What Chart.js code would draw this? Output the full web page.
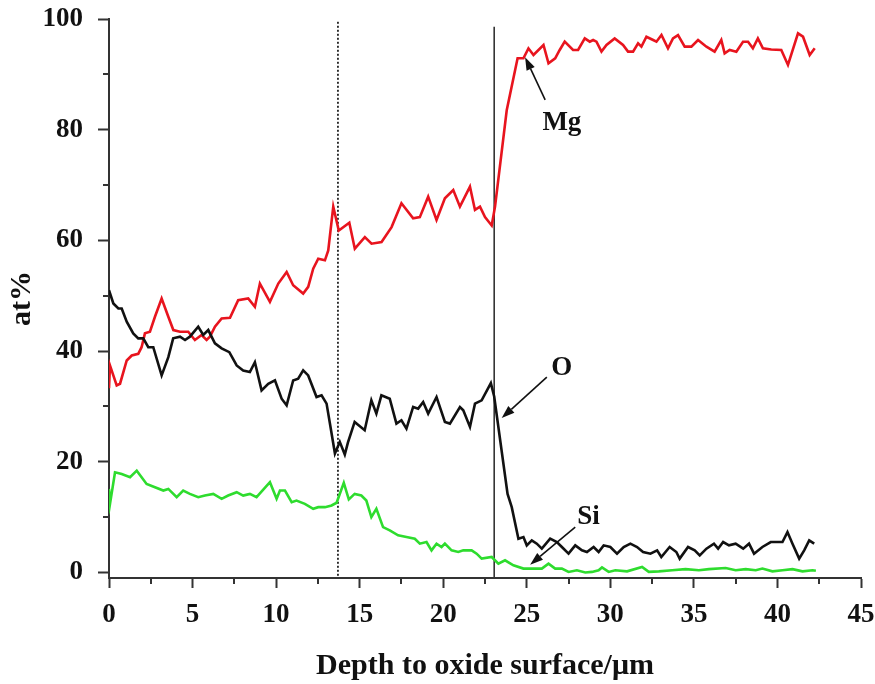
<!DOCTYPE html>
<html>
<head>
<meta charset="utf-8">
<script src="https://cdn.jsdelivr.net/npm/chart.js@4.4.1/dist/chart.umd.min.js"></script>
<style>
  html, body { margin: 0; padding: 0; background: #ffffff; }
  #wrap { width: 875px; height: 684px; }
</style>
</head>
<body>
<div id="wrap"><canvas id="c" width="875" height="684"></canvas></div>
<script>
// ---- data ----
const mgDepth = [0,0.06,0.46,0.66,1.06,1.36,1.75,1.95,2.15,2.45,2.75,3.15,3.55,3.85,4.25,4.74,5.14,5.54,5.84,6.04,6.34,6.74,7.24,7.73,8.33,8.73,9.03,9.63,10.13,10.63,11.02,11.62,11.92,12.22,12.52,12.92,13.12,13.42,13.75,14.38,14.71,15.31,15.71,16.31,16.91,17.5,18.2,18.6,19.1,19.6,20.1,20.6,21.0,21.6,21.9,22.2,22.5,22.9,23.1,23.8,24.45,24.8,25.1,25.4,26.0,26.3,26.7,26.97,27.27,27.77,28.07,28.47,28.77,28.97,29.17,29.47,29.77,30.26,30.76,31.06,31.36,31.66,31.86,32.16,32.56,32.76,33.06,33.45,33.75,34.05,34.45,34.85,35.25,35.75,36.24,36.64,36.84,37.14,37.54,37.94,38.24,38.53,38.83,39.13,39.63,40.23,40.63,41.23,41.53,41.93,42.23];
const mgAt    = [33.3,37.4,33.8,34.1,38.3,39.2,39.5,40.7,43.2,43.5,46.2,49.5,46.2,43.8,43.5,43.5,42.0,42.9,42.0,42.6,44.4,45.9,46.0,49.2,49.5,48.0,52.2,48.9,52.2,54.3,51.9,50.4,51.6,54.9,56.7,56.4,58.2,66.1,61.8,63.2,58.5,60.6,59.4,59.7,62.4,66.7,64.0,64.2,67.9,63.7,67.6,69.1,66.1,69.7,65.5,66.1,64.2,62.7,66.1,83.5,92.9,92.9,94.7,93.5,95.3,92.0,92.9,94.4,95.9,94.4,94.4,96.5,95.9,96.2,95.9,94.1,95.3,96.5,95.3,94.1,94.1,95.6,95.0,96.8,96.2,95.9,97.1,94.7,96.5,97.1,95.0,95.0,96.2,95.0,94.1,96.2,93.8,94.4,94.1,95.9,95.9,94.7,96.5,94.7,94.5,94.4,91.7,97.4,96.8,93.5,94.7];

const oDepth = [0,0.26,0.56,0.76,1.06,1.45,1.75,2.05,2.35,2.65,3.15,3.55,3.84,4.25,4.55,4.84,5.34,5.64,5.94,6.34,6.74,7.2,7.64,8.03,8.43,8.73,9.13,9.53,9.93,10.33,10.63,11.02,11.32,11.62,11.92,12.42,12.72,13.02,13.22,13.52,13.81,14.11,14.3,14.7,15.3,15.7,16.0,16.3,16.8,17.2,17.5,17.8,18.2,18.5,18.8,19.1,19.6,20.1,20.4,21.0,21.2,21.6,21.9,22.3,22.85,23.05,23.85,24.1,24.5,24.8,25.0,25.3,25.6,25.9,26.4,26.8,27.1,27.5,27.9,28.3,28.6,29.0,29.3,29.6,30.0,30.4,30.8,31.2,31.6,31.96,32.4,32.8,33.05,33.55,33.95,34.15,34.65,35.05,35.35,35.75,36.2,36.45,36.75,37.1,37.5,37.95,38.3,38.6,39.1,39.6,40.1,40.3,40.6,40.9,41.3,41.6,41.9,42.2];
const oAt    = [51.0,48.6,47.7,47.7,45.3,43.2,42.3,42.3,40.7,40.7,35.6,38.9,42.3,42.6,42.0,42.6,44.4,42.9,43.8,41.4,40.5,39.8,37.4,36.5,36.2,38.0,32.9,34.1,34.7,31.4,30.2,34.7,35.0,36.5,35.6,31.7,32.0,30.5,26.9,21.5,23.6,21.3,23.5,27.2,25.7,31.1,28.7,32.0,31.4,26.9,27.5,26.0,29.9,29.6,30.8,28.7,31.7,27.2,26.9,29.9,29.3,26.3,30.5,31.1,34.2,31.8,14.2,11.8,6.1,6.4,4.9,5.8,5.2,4.3,6.1,5.5,4.6,3.4,4.9,4.0,3.7,4.6,3.7,4.9,4.6,3.4,4.6,5.2,4.6,3.7,3.4,4.0,2.8,4.6,3.7,2.5,4.6,4.0,3.1,4.3,5.2,4.3,5.5,4.9,5.2,4.3,5.2,3.4,4.6,5.5,5.5,5.5,7.3,5.2,2.5,4.0,5.8,5.2];

const siDepth = [0,0.06,0.36,0.76,1.26,1.66,2.25,2.75,3.25,3.55,4.05,4.44,4.84,5.34,5.74,6.24,6.74,7.13,7.64,8.03,8.43,8.83,9.63,10.03,10.23,10.53,10.93,11.22,11.72,12.22,12.52,12.92,13.32,13.62,14.05,14.35,14.7,15.1,15.4,15.7,16.0,16.4,16.8,17.3,17.8,18.3,18.6,19.0,19.3,19.6,19.9,20.1,20.5,20.9,21.2,21.7,22.0,22.3,22.9,23.3,23.7,24.2,24.8,25.4,25.9,26.3,26.7,27.1,27.5,28.0,28.5,28.9,29.3,29.5,29.9,30.3,31.0,31.9,32.3,32.9,33.7,34.5,35.3,35.9,36.9,37.5,38.1,38.7,39.1,39.7,40.3,40.9,41.5,42.1,42.3];
const siAt    = [15.1,12.4,18.1,17.8,17.2,18.4,16.0,15.4,14.8,15.1,13.6,14.8,14.2,13.6,13.9,14.2,13.3,13.9,14.5,13.9,14.2,13.6,16.3,13.3,14.8,14.8,12.7,13.0,12.4,11.5,11.8,11.8,12.1,12.6,16.2,13.2,14.2,13.9,13.0,10.0,11.5,8.2,7.6,6.7,6.4,6.1,5.2,5.5,4.0,5.2,4.6,5.2,4.0,3.7,4.0,4.0,3.4,2.5,2.8,1.6,2.2,1.3,0.7,0.7,0.7,1.6,0.7,0.7,0.1,0.4,0.0,0.1,0.4,0.9,0.1,0.4,0.2,1.0,0.1,0.2,0.4,0.6,0.4,0.6,0.8,0.4,0.6,0.4,0.7,0.2,0.4,0.6,0.2,0.4,0.3];

const xTicks = [0,5,10,15,20,25,30,35,40,45];
const xMinorTicks = [2.5,7.5,12.5,17.5,22.5,27.5,32.5,37.5,42.5];
const yTicks = [0,20,40,60,80,100];
const yMinorTicks = [10,30,50,70,90];

const dottedLineX = 13.7;
const solidLineX = 23.05;

// labels with arrows, in data units: text position, arrow tail, arrow head
const labelNames = ['Mg','O','Si'];
const labelPos  = [[27.1,81.2],[27.1,36.9],[28.7,10.0]];
const arrowTail = [[26.1,85.4],[26.2,35.3],[27.9,8.2]];
const arrowHead = [[24.9,93.1],[23.5,27.9],[25.2,1.4]];

// ---- chart ----
const FONT = "'Liberation Serif','Times New Roman',serif";
const pts = (xs, ys) => xs.map((x, i) => ({ x: x, y: ys[i] }));

const extras = {
  id: 'extras',
  afterDraw(chart) {
    const { ctx, chartArea, scales } = chart;
    const xs = scales.x, ys = scales.y;
    ctx.save();
    // minor ticks
    ctx.strokeStyle = '#333';
    ctx.lineWidth = 2;
    ctx.beginPath();
    xMinorTicks.forEach(v => {
      const p = Math.round(xs.getPixelForValue(v));
      ctx.moveTo(p, chartArea.bottom);
      ctx.lineTo(p, chartArea.bottom + 6);
    });
    yMinorTicks.forEach(v => {
      const p = Math.round(ys.getPixelForValue(v));
      ctx.moveTo(chartArea.left, p);
      ctx.lineTo(chartArea.left - 6, p);
    });
    ctx.stroke();
    // labels and arrows
    ctx.fillStyle = '#111';
    ctx.strokeStyle = '#111';
    ctx.lineWidth = 1.6;
    labelNames.forEach((t, i) => {
      const x0 = xs.getPixelForValue(arrowTail[i][0]), y0 = ys.getPixelForValue(arrowTail[i][1]);
      const x1 = xs.getPixelForValue(arrowHead[i][0]), y1 = ys.getPixelForValue(arrowHead[i][1]);
      const a = Math.atan2(y1 - y0, x1 - x0);
      const L = 13, W = 4.5;
      const bx = x1 - L * Math.cos(a), by = y1 - L * Math.sin(a);
      ctx.beginPath();
      ctx.moveTo(x0, y0);
      ctx.lineTo(bx, by);
      ctx.stroke();
      ctx.beginPath();
      ctx.moveTo(x1, y1);
      ctx.lineTo(bx + W * Math.sin(a), by - W * Math.cos(a));
      ctx.lineTo(bx - W * Math.sin(a), by + W * Math.cos(a));
      ctx.closePath();
      ctx.fill();
      ctx.font = 'bold 27px ' + FONT;
      ctx.textAlign = 'center';
      ctx.textBaseline = 'middle';
      ctx.fillText(t, xs.getPixelForValue(labelPos[i][0]), ys.getPixelForValue(labelPos[i][1]));
    });
    ctx.restore();
  }
};

new Chart(document.getElementById('c'), {
  type: 'scatter',
  data: {
    datasets: [
      { label: 'O', data: pts(oDepth, oAt), showLine: true, borderColor: '#111111', borderWidth: 2.6, pointRadius: 0, tension: 0 },
      { label: 'Mg', data: pts(mgDepth, mgAt), showLine: true, borderColor: '#e8141e', borderWidth: 2.6, pointRadius: 0, tension: 0 },
      { label: 'Si', data: pts(siDepth, siAt), showLine: true, borderColor: '#2edc2e', borderWidth: 2.6, pointRadius: 0, tension: 0 },
      { label: 'dotted', data: [{ x: dottedLineX, y: -0.6 }, { x: dottedLineX, y: 99.6 }], showLine: true, borderColor: '#222', borderWidth: 1.8, borderDash: [2, 2], pointRadius: 0 },
      { label: 'solid', data: [{ x: solidLineX, y: -1 }, { x: solidLineX, y: 98.6 }], showLine: true, borderColor: '#333', borderWidth: 1.6, pointRadius: 0 }
    ]
  },
  options: {
    responsive: false,
    animation: false,
    devicePixelRatio: 1,
    layout: { padding: { left: 0, right: 14, top: 19, bottom: 0 } },
    plugins: { legend: { display: false }, tooltip: { enabled: false } },
    scales: {
      x: {
        type: 'linear', min: 0, max: 45,
        afterBuildTicks: s => { s.ticks = xTicks.map(v => ({ value: v })); },
        afterFit: s => { s.height = 106; s.paddingLeft = 0; s.paddingRight = 0; },
        grid: { drawOnChartArea: false, drawTicks: true, tickLength: 10, tickWidth: 2, tickColor: '#333' },
        border: { display: true, color: '#333', width: 2 },
        ticks: { color: '#111', maxRotation: 0, padding: 11, font: { family: FONT, weight: 'bold', size: 27 } },
        title: { display: true, text: 'Depth to oxide surface/\u03bcm', color: '#111', padding: { top: 0, bottom: 0 }, font: { family: FONT, weight: 'bold', size: 30 } }
      },
      y: {
        type: 'linear', min: -1, max: 100,
        afterBuildTicks: s => { s.ticks = yTicks.map(v => ({ value: v })); },
        afterFit: s => { s.width = 109; s.paddingTop = 0; s.paddingBottom = 0; },
        grid: { drawOnChartArea: false, drawTicks: true, tickLength: 11, tickWidth: 2, tickColor: '#333' },
        border: { display: true, color: '#333', width: 2 },
        ticks: { color: '#111', padding: 15, font: { family: FONT, weight: 'bold', size: 27 } },
        title: { display: true, text: 'at%', color: '#111', padding: { top: 4, bottom: 0 }, font: { family: FONT, weight: 'bold', size: 30 } }
      }
    }
  },
  plugins: [extras]
});
</script>
</body>
</html>
